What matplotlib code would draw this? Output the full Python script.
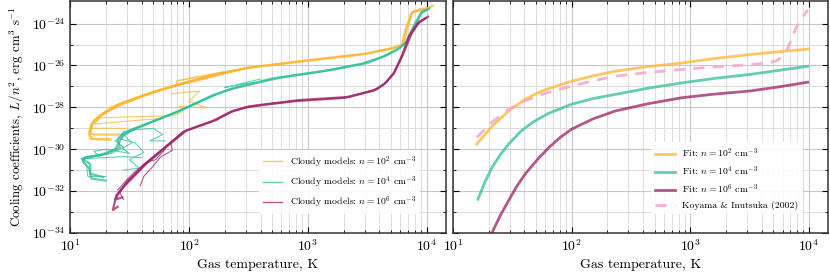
import numpy as np
import matplotlib.pyplot as plt
from matplotlib.ticker import NullFormatter

plt.rcParams['font.family'] = 'serif'
plt.rcParams['font.serif'] = ['cmr10']
plt.rcParams['mathtext.fontset'] = 'cm'
plt.rcParams['axes.formatter.use_mathtext'] = True
plt.rcParams['axes.unicode_minus'] = False

c_n2 = '#FFB52E'
c_n4 = '#2EBF9A'
c_n6 = '#9E1F66'
c_ki = '#F7A8CF'

# Cloudy model tracks, log10(T) and log10(L/n^2)
cloudy_n2_logT = [
    [4.05, 3.98, 3.88, 3.84, 3.80, 3.73, 3.50, 2.93, 2.51, 2.23, 1.92, 1.65, 1.42, 1.25, 1.18, 1.16, 1.17, 1.34],
    [4.02, 3.95, 3.87, 3.82, 3.79, 3.70, 3.45, 2.90, 2.50, 2.24, 1.95, 1.68, 1.44, 1.27, 1.19, 1.17, 1.20, 1.45],
    [2.51, 2.24, 2.09, 1.90, 1.89, 1.70, 1.50, 1.30, 1.20, 1.17, 1.48],
    [2.23, 1.95, 1.70, 1.45, 1.28, 1.23, 1.55, 1.87, 1.95, 1.92, 2.15, 2.00, 2.09, 1.85],
    [2.51, 2.00, 1.60, 1.35, 1.20, 1.16, 1.20, 1.34],
    [2.40, 2.10, 1.85, 1.60, 1.40, 1.26, 1.21, 1.30, 1.60, 1.75],
    [1.90, 2.05, 2.25, 2.45],
]
cloudy_n2_logL = [
    [-23.15, -23.34, -23.43, -24.14, -25.0, -25.14, -25.42, -25.80, -26.09, -26.42, -26.89, -27.36, -27.84, -28.41, -28.79, -29.21, -29.50, -29.55],
    [-23.25, -23.30, -23.50, -24.30, -25.05, -25.20, -25.48, -25.84, -26.12, -26.40, -26.85, -27.30, -27.80, -28.35, -28.80, -29.25, -29.30, -29.30],
    [-26.09, -26.37, -26.56, -26.72, -26.95, -27.30, -27.75, -28.20, -28.60, -29.00, -29.00],
    [-26.42, -26.85, -27.25, -27.75, -28.25, -28.50, -28.45, -28.40, -28.20, -27.95, -28.03, -27.70, -27.22, -27.35],
    [-26.10, -26.80, -27.45, -27.95, -28.60, -29.30, -29.50, -29.50],
    [-26.25, -26.70, -27.05, -27.50, -27.90, -28.40, -28.80, -28.75, -28.60, -28.55],
    [-26.75, -26.55, -26.35, -26.15],
]

cloudy_n4_logT = [
    [4.02, 3.96, 3.92, 3.83, 3.77, 3.65, 3.50, 3.21, 2.76, 2.34, 2.23, 1.92, 1.64, 1.45, 1.40, 1.42, 1.31, 1.14, 1.10, 1.17, 1.17, 1.28],
    [4.00, 3.95, 3.90, 3.82, 3.75, 3.62, 3.45, 3.15, 2.70, 2.40, 2.20, 1.90, 1.62, 1.46, 1.42, 1.38, 1.25, 1.12, 1.11, 1.16, 1.18, 1.30],
    [2.23, 1.92, 1.66, 1.50, 1.70, 1.78, 1.67, 1.80],
    [1.64, 1.48, 1.42, 1.55, 1.62, 1.50, 1.58, 1.45],
    [1.45, 1.38, 1.45, 1.35, 1.20, 1.10, 1.14, 1.15, 1.30],
    [1.10, 1.30, 1.45, 1.60],
    [2.60, 2.45, 2.38, 2.30, 2.45, 2.55],
    [1.55, 1.46, 1.52, 1.44, 1.50, 1.40, 1.30, 1.20, 1.25],
]
cloudy_n4_logL = [
    [-23.30, -23.43, -23.90, -24.85, -25.17, -25.55, -25.88, -26.20, -26.59, -27.14, -27.38, -28.17, -28.80, -29.20, -29.55, -29.90, -30.22, -30.38, -30.46, -30.70, -31.17, -31.33],
    [-23.35, -23.50, -24.00, -24.95, -25.25, -25.60, -25.92, -26.25, -26.62, -27.05, -27.42, -28.22, -28.85, -29.25, -29.60, -30.00, -30.28, -30.40, -30.60, -30.90, -31.40, -31.50],
    [-27.38, -28.15, -28.75, -29.10, -29.00, -29.30, -29.60, -29.60],
    [-28.82, -29.20, -29.50, -29.70, -30.15, -30.50, -30.90, -31.00],
    [-29.25, -29.60, -29.90, -30.20, -30.35, -30.50, -30.80, -31.30, -31.30],
    [-30.45, -30.40, -30.35, -30.40],
    [-26.65, -26.85, -26.95, -27.05, -26.90, -26.80],
    [-29.00, -29.35, -29.70, -29.95, -30.20, -30.10, -30.00, -30.10, -30.35],
]

cloudy_n6_logT = [
    [4.01, 3.94, 3.87, 3.80, 3.73, 3.66, 3.58, 3.35, 2.93, 2.66, 2.51, 2.37, 2.23, 1.98, 1.84, 1.64, 1.45, 1.39, 1.36, 1.40],
    [3.99, 3.92, 3.85, 3.79, 3.72, 3.64, 3.55, 3.30, 2.90, 2.63, 2.48, 2.35, 2.20, 1.96, 1.82, 1.62, 1.46, 1.42, 1.38, 1.44],
    [1.85, 1.86, 1.76, 1.70, 1.62, 1.59],
    [1.80, 1.72, 1.65, 1.58, 1.48, 1.42, 1.45],
    [1.95, 1.80, 1.66, 1.55, 1.47, 1.40],
]
cloudy_n6_logL = [
    [-23.67, -23.90, -24.50, -25.47, -26.30, -26.80, -27.14, -27.50, -27.65, -27.84, -27.95, -28.17, -28.60, -29.10, -29.75, -30.70, -31.80, -32.20, -32.90, -32.75],
    [-23.75, -24.00, -24.60, -25.55, -26.40, -26.90, -27.20, -27.55, -27.70, -27.88, -28.00, -28.22, -28.65, -29.15, -29.80, -30.75, -31.70, -32.00, -32.40, -32.30],
    [-29.70, -30.05, -30.38, -30.80, -31.30, -31.75],
    [-30.00, -30.50, -30.60, -31.00, -31.50, -32.10, -32.40],
    [-29.15, -29.90, -30.55, -31.05, -31.50, -31.95],
]

# fits and Koyama & Inutsuka (2002)
fit_n2_logT = [1.20, 1.33, 1.47, 1.61, 1.75, 1.90, 2.00, 2.18, 2.37, 2.65, 2.93, 3.20, 3.50, 3.75, 3.99]
fit_n2_logL = [-29.75, -28.90, -28.17, -27.60, -27.22, -26.93, -26.75, -26.50, -26.27, -26.05, -25.88, -25.67, -25.48, -25.34, -25.22]
fit_n4_logT = [1.21, 1.27, 1.33, 1.40, 1.47, 1.57, 1.67, 1.80, 2.00, 2.18, 2.37, 2.65, 2.93, 3.20, 3.50, 3.75, 3.99]
fit_n4_logL = [-32.39, -31.55, -30.86, -30.25, -29.75, -29.15, -28.72, -28.30, -27.85, -27.58, -27.38, -27.08, -26.83, -26.62, -26.43, -26.23, -26.04]
fit_n6_logT = [1.31, 1.40, 1.47, 1.54, 1.61, 1.71, 1.81, 1.90, 2.00, 2.18, 2.37, 2.65, 2.93, 3.20, 3.50, 3.75, 3.99]
fit_n6_logL = [-34.20, -33.15, -32.44, -31.75, -31.17, -30.50, -29.91, -29.45, -29.04, -28.55, -28.17, -27.82, -27.54, -27.37, -27.22, -27.02, -26.80]
ki_logT = [1.20, 1.33, 1.47, 1.61, 1.75, 1.90, 2.00, 2.18, 2.37, 2.65, 2.93, 3.20, 3.50, 3.65, 3.72, 3.77, 3.81, 3.85, 3.89, 3.94, 3.99]
ki_logL = [-29.44, -28.70, -28.09, -27.68, -27.38, -27.13, -26.99, -26.73, -26.51, -26.33, -26.19, -26.07, -25.96, -25.88, -25.80, -25.60, -25.33, -24.80, -24.22, -23.75, -23.35]

fig = plt.figure(figsize=(8.3, 2.8), dpi=100)
ax1 = fig.add_axes([70/830, 47/280, 376/830, 232/280])
ax2 = fig.add_axes([453/830, 47/280, 375/830, 232/280], sharey=ax1)

cloudy = [(cloudy_n2_logT, cloudy_n2_logL, c_n2, 2),
          (cloudy_n4_logT, cloudy_n4_logL, c_n4, 4),
          (cloudy_n6_logT, cloudy_n6_logL, c_n6, 6)]
for tt, ll, col, p in cloudy:
    for k, (t, l) in enumerate(zip(tt, ll)):
        lw = 1.6 if k < 2 else 0.8
        lab = r'Cloudy models: $n = 10^%d$ cm$^{-3}$' % p if k == 0 else None
        line, = ax1.plot(10**np.array(t), 10**np.array(l), color=col, lw=lw, alpha=0.75, label=lab)

fits = [(fit_n2_logT, fit_n2_logL, c_n2, 2),
        (fit_n4_logT, fit_n4_logL, c_n4, 4),
        (fit_n6_logT, fit_n6_logL, c_n6, 6)]
for t, l, col, p in fits:
    ax2.plot(10**np.array(t), 10**np.array(l), color=col, lw=2, alpha=0.75,
             label=r'Fit: $n = 10^%d$ cm$^{-3}$' % p)
ax2.plot(10**np.array(ki_logT), 10**np.array(ki_logL), color=c_ki, lw=2, ls=(0, (4, 3)),
         alpha=0.9, label='Koyama & Inutsuka (2002)')

for ax in (ax1, ax2):
    ax.set_xscale('log')
    ax.set_yscale('log')
    ax.set_xlim(10, 1.45e4)
    ax.set_ylim(1e-34, 1.2e-23)
    ax.set_yticks([10.0**k for k in range(-34, -23, 2)])
    ax.set_yticks([10.0**k for k in range(-33, -23, 2)], minor=True)
    ax.yaxis.set_minor_formatter(NullFormatter())
    ax.grid(True, which='major', color='#c8c8c8', lw=0.8)
    ax.grid(True, which='minor', color='#dcdcdc', lw=0.7)
    ax.set_axisbelow(True)
    ax.tick_params(which='both', direction='in', top=True, right=True, labelsize=10)
    ax.tick_params(which='major', length=4, width=0.8)
    ax.tick_params(which='minor', length=2, width=0.6)
    for s in ax.spines.values():
        s.set_linewidth(1.1)
        s.set_color('#333333')
    ax.set_xlabel('Gas temperature, K', fontsize=10)

leg1 = ax1.legend(loc='lower right', bbox_to_anchor=(0.945, 0.06), fontsize=7, frameon=True,
                  framealpha=0.9, edgecolor='none', handlelength=2.0)
for h in leg1.get_lines():
    h.set_linewidth(1.0)
ax2.legend(loc='lower right', bbox_to_anchor=(0.945, 0.06), fontsize=7, frameon=True,
           framealpha=0.9, edgecolor='none', handlelength=2.0)

plt.setp(ax2.get_yticklabels(), visible=False)
ax1.set_ylabel(r'Cooling coefficients, $L/n^2$, erg cm$^3$ s$^{-1}$', fontsize=9.3)

plt.savefig('out.png', dpi=100)
